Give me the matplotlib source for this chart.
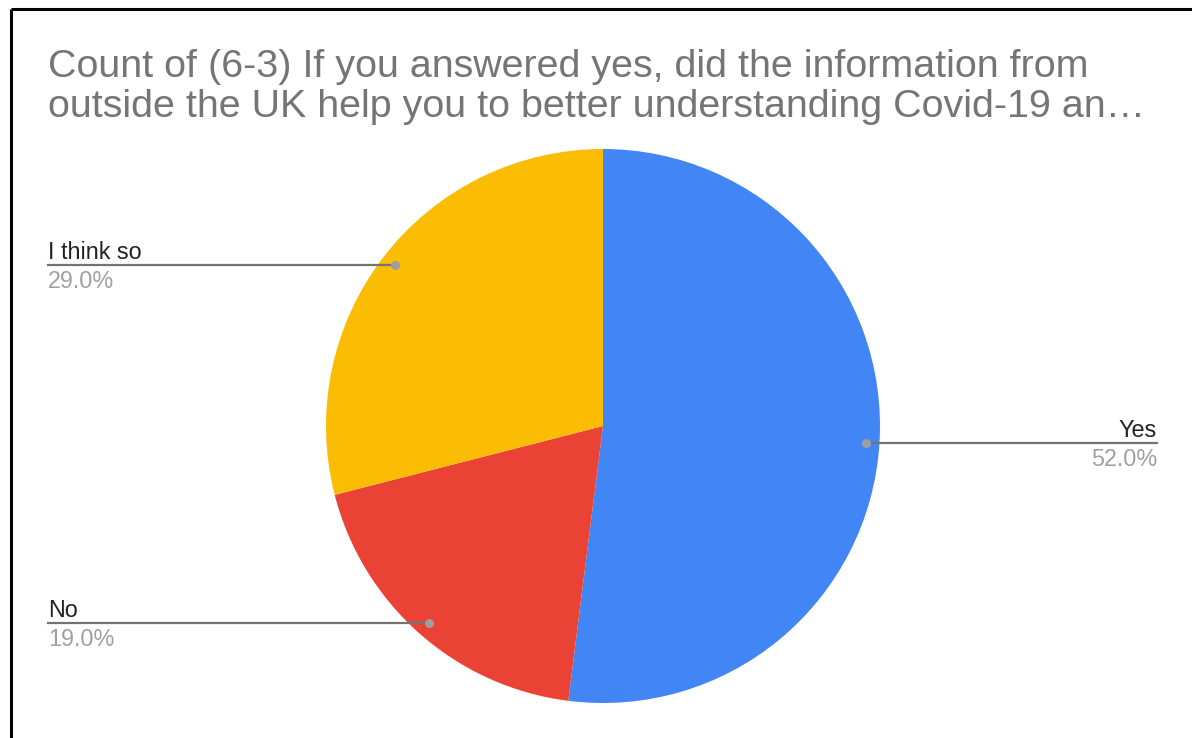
import numpy as np
import matplotlib
matplotlib.use("Agg")
import matplotlib.pyplot as plt

# Survey answers and their shares
categories = ["Yes", "No", "I think so"]
shares = [52.0, 19.0, 29.0]
colors = ["#4285F4", "#EA4335", "#FBBC04"]
title = ("Count of (6-3) If you answered yes, did the information from\n"
         "outside the UK help you to better understanding Covid-19 an\u2026")

W, H = 1192, 738
fig = plt.figure(figsize=(W / 100, H / 100), dpi=100)
ax = fig.add_axes([0, 0, 1, 1])

plt.rcParams["font.family"] = ["Liberation Sans", "DejaVu Sans"]

cx, cy, R = 603, H - 426, 277
wedges, _ = ax.pie(shares, colors=colors, startangle=90, counterclock=False,
                   center=(cx, cy), radius=R, frame=True,
                   wedgeprops=dict(linewidth=0, antialiased=True))
ax.set_xlim(0, W)
ax.set_ylim(0, H)
ax.set_aspect("equal")
ax.axis("off")

# Frame lines along the left and top
ax.plot([10.5, 10.5], [0, H - 8.5], color="black", lw=2.2, solid_capstyle="butt")
ax.plot([10.5, W], [H - 8.5, H - 8.5], color="black", lw=2.2, solid_capstyle="butt")

fig.text(48 / W, 1 - 49 / H, title, ha="left", va="top", fontsize=28.4,
         color="#757575", linespacing=1.14)

line_color = "#737373"
for w, name, val in zip(wedges, categories, shares):
    mid = np.deg2rad((w.theta1 + w.theta2) / 2)
    px = cx + 0.95 * R * np.cos(mid)
    py = cy + 0.95 * R * np.sin(mid)
    if np.cos(mid) >= 0:
        xe, ha = 1157, "right"
    else:
        xe, ha = 48, "left"
    ax.plot([px, xe], [py, py], color=line_color, lw=1.6, zorder=3)
    ax.plot(px, py, "o", color="#9E9E9E", ms=6.5, mec="none", zorder=4)
    ax.text(xe, py + 6, name, ha=ha, va="baseline", fontsize=16.8, color="#222222")
    ax.text(xe, py - 5, f"{val:.1f}%", ha=ha, va="top", fontsize=16.8, color="#A0A0A0")

fig.savefig("out.png", dpi=100, facecolor="white")
